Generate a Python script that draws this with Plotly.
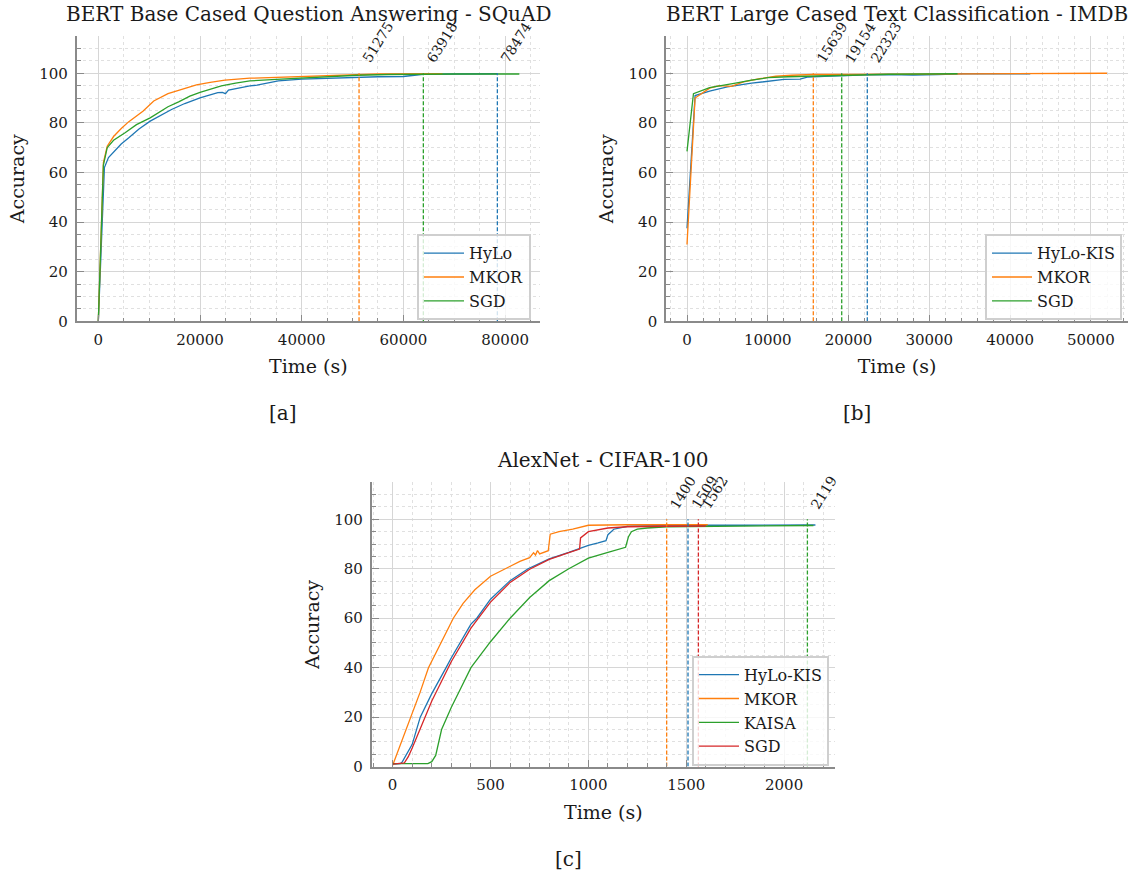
import plotly.graph_objects as go

# ---------------- data ----------------
# [a] BERT Base Cased Question Answering - SQuAD
hylo_a_t = [0, 1200, 2000, 3200, 4500, 6000, 8000, 10200, 12500, 14400, 17000, 20000, 22000, 23500, 24400,
            25000, 25600, 27500, 29800, 31200, 33000, 35400, 40000, 45000, 50900, 55000, 60000, 62000, 63900,
            70000, 78500]
hylo_a = [0, 62, 66, 68.6, 71.5, 74, 77.5, 80.7, 83.3, 85.4, 87.8, 90.1, 91.3, 92.2, 92.3,
          91.8, 93.2, 94.1, 94.9, 95.2, 96.0, 96.9, 97.6, 98.0, 98.4, 98.6, 98.7, 99.2, 99.6,
          99.7, 99.8]
mkor_a_t = [0, 1000, 1750, 3000, 4560, 6000, 8770, 10900, 13700, 16500, 19300, 22000, 24900, 29800, 35000,
            40000, 47400, 50900, 55000, 67700]
mkor_a = [0, 64, 70.6, 74.5, 77.8, 80.5, 84.7, 88.8, 91.8, 93.6, 95.3, 96.3, 97.2, 98.0, 98.4,
          98.7, 99.2, 99.6, 99.7, 99.8]
sgd_a_t = [0, 1000, 1750, 3000, 5260, 7500, 10200, 12500, 13700, 15800, 18000, 20000, 22000, 24200, 27000,
           29800, 35000, 40000, 45000, 50900, 57000, 63900, 70000, 82800]
sgd_a = [0, 63, 70, 73, 76, 79.3, 82, 84.8, 86.5, 88.5, 90.8, 92.3, 93.6, 94.9, 96,
         96.9, 97.5, 98.1, 98.7, 99.2, 99.5, 99.7, 99.7, 99.7]
names_a = ["HyLo", "MKOR", "SGD"]
vlines_a = [51275, 63918, 78474]
vline_names_a = ["MKOR", "SGD", "HyLo"]

# [b] BERT Large Cased Text Classification - IMDB
hylo_b_t = [0, 1000, 2800, 5000, 8000, 10000, 12000, 14000, 15000, 17000, 20000, 22300, 25000, 28000,
            31000, 34000, 42500]
hylo_b = [37.5, 91, 92.8, 94.5, 96, 96.8, 97.5, 97.6, 98.5, 98.8, 99.2, 99.4, 99.5, 99.3,
          99.5, 99.8, 99.8]
mkor_b_t = [0, 1000, 2800, 4000, 5500, 7000, 9000, 11000, 13000, 15600, 20000, 30000, 40000, 52000]
mkor_b = [31, 90, 94, 95, 94.7, 96.5, 97.8, 98.8, 99.2, 99.5, 99.5, 99.7, 99.9, 100]
sgd_b_t = [0, 800, 2800, 4500, 6000, 8000, 10000, 12500, 15000, 19100, 25000, 33500]
sgd_b = [68.5, 91.8, 94.2, 95, 96, 97.2, 98.2, 98.6, 98.8, 99.3, 99.6, 99.8]
names_b = ["HyLo-KIS", "MKOR", "SGD"]
vlines_b = [15639, 19154, 22323]
vline_names_b = ["MKOR", "SGD", "HyLo-KIS"]

# [c] AlexNet - CIFAR-100
hylo_c_t = [0, 40, 50, 80, 100, 141, 200, 273, 300, 400, 430, 500, 600, 692, 800, 900, 950, 1000, 1050,
            1090, 1100, 1130, 1200, 1300, 1509, 1800, 2160]
hylo_c = [1, 1.2, 2, 6, 9, 20, 29.5, 40, 44, 57.6, 60, 67.7, 75.2, 80, 84, 86.6, 88, 89.5, 90.5,
          91.4, 93.8, 96, 97.2, 97.4, 97.6, 97.6, 97.7]
mkor_c_t = [0, 47, 95, 140, 183, 245, 310, 360, 420, 500, 573, 650, 700, 720, 730, 740, 751, 795,
            805, 850, 920, 988, 1000, 1200, 1400, 1610]
mkor_c = [0.5, 10.4, 20, 30, 40, 50, 60, 66, 71.5, 77, 80, 83, 84.5, 86.5, 85.6, 87.4, 86, 87.3,
          94, 95, 96, 97.3, 97.6, 97.8, 97.8, 97.8]
kaisa_c_t = [0, 180, 200, 220, 250, 300, 350, 400, 500, 600, 700, 800, 900, 1000, 1100, 1190, 1205,
             1220, 1250, 1300, 1400, 1700, 2119, 2150]
kaisa_c = [1.2, 1.2, 2, 4.5, 15, 24, 32, 40, 50.5, 60, 68.4, 75.2, 80, 84.3, 86.6, 88.7, 93,
           95, 96, 96.5, 97, 97.3, 97.5, 97.5]
sgd_c_t = [0, 60, 80, 100, 150, 200, 300, 400, 500, 600, 700, 800, 900, 955, 960, 1000, 1100, 1200,
           1400, 1562, 1600]
sgd_c = [1, 1.5, 4, 7.5, 17, 26.5, 42.5, 56, 66.5, 74.5, 79.8, 83.8, 86.5, 88, 92.5, 95, 96.5, 97,
         97.2, 97.3, 97.3]
names_c = ["HyLo-KIS", "MKOR", "KAISA", "SGD"]
vlines_c = [1400, 1509, 1562, 2119]
vline_names_c = ["MKOR", "HyLo-KIS", "SGD", "KAISA"]

titles = ["BERT Base Cased Question Answering - SQuAD",
          "BERT Large Cased Text Classification - IMDB",
          "AlexNet - CIFAR-100"]
panel_labels = ["[a]", "[b]", "[c]"]
x_label = "Time (s)"
y_label = "Accuracy"

# ---------------- style ----------------
COLORS = {"HyLo": "#1f77b4", "HyLo-KIS": "#1f77b4", "MKOR": "#ff7f0e",
          "SGD_ac": "#2ca02c", "KAISA": "#2ca02c", "SGD_c": "#d62728"}
FONT = "DejaVu Serif"
TXT = "#1a1a1a"
W, H = 1136, 877          # reference canvas
HL = 887                  # layout height (compensates observed vertical squash)


def fx(px):
    return px / W


def fy(py):
    return 1 - py / H


def col(name, panel):
    if name == "SGD":
        return COLORS["SGD_c"] if panel == 3 else COLORS["SGD_ac"]
    return COLORS[name]


fig = go.Figure()

panels = [
    (1, [(hylo_a_t, hylo_a), (mkor_a_t, mkor_a), (sgd_a_t, sgd_a)], names_a, vlines_a, vline_names_a),
    (2, [(hylo_b_t, hylo_b), (mkor_b_t, mkor_b), (sgd_b_t, sgd_b)], names_b, vlines_b, vline_names_b),
    (3, [(hylo_c_t, hylo_c), (mkor_c_t, mkor_c), (kaisa_c_t, kaisa_c), (sgd_c_t, sgd_c)], names_c,
     vlines_c, vline_names_c),
]

annotations = []
for p, series, names, vls, vnames in panels:
    xa = "x" if p == 1 else f"x{p}"
    ya = "y" if p == 1 else f"y{p}"
    lg = "legend" if p == 1 else f"legend{p}"
    for (t, v), nm in zip(series, names):
        fig.add_trace(go.Scatter(x=t, y=v, mode="lines", name=nm, xaxis=xa, yaxis=ya, legend=lg,
                                 line=dict(color=col(nm, p), width=1.3)))
    for v, nm in zip(vls, vnames):
        fig.add_trace(go.Scatter(x=[v, v], y=[0, 100], mode="lines", showlegend=False, xaxis=xa, yaxis=ya,
                                 line=dict(color=col(nm, p), width=1.3, dash="4px,2px"), hoverinfo="skip"))
        annotations.append(dict(x=v, y=102.5, xref=xa, yref=ya, text=str(v), showarrow=False,
                                textangle=-58, xanchor="left", yanchor="bottom", borderpad=0, xshift=-1,
                                font=dict(family=FONT, size=14, color=TXT)))

# axis geometry in page pixels
geo = {
    1: dict(x=(76.7, 540.0), y=(36.0, 321.0), xr=[-4250, 86860], dt=20000, mdt=5000),
    2: dict(x=(666.0, 1128.0), y=(36.0, 321.0), xr=[-2600, 54600], dt=10000, mdt=2000),
    3: dict(x=(371.7, 835.0), y=(481.7, 765.7), xr=[-107, 2260], dt=500, mdt=100),
}

AX = "#8a8a8a"
for p, g in geo.items():
    xd = [fx(g["x"][0]), fx(g["x"][1])]
    yd = [fy(g["y"][1]), fy(g["y"][0])]
    common = dict(showline=True, linecolor=AX, linewidth=1.6, ticks="inside", ticklen=7, tickwidth=1.2,
                  tickcolor=AX, showgrid=True, gridcolor="#d6d6d6", gridwidth=1, zeroline=False,
                  tickfont=dict(family=FONT, size=15, color=TXT), ticklabelstandoff=4, tickformat="d")
    xk = "xaxis" if p == 1 else f"xaxis{p}"
    yk = "yaxis" if p == 1 else f"yaxis{p}"
    fig.update_layout(**{
        xk: dict(common, domain=xd, anchor="y" if p == 1 else f"y{p}", range=g["xr"], tick0=0, dtick=g["dt"],
                 minor=dict(dtick=g["mdt"], tick0=0, ticks="inside", ticklen=4, tickcolor=AX, tickwidth=1,
                            showgrid=True, gridcolor="#e0e0e0", griddash="dot"),
                 title=dict(text=x_label, font=dict(family=FONT, size=19, color=TXT), standoff=12)),
        yk: dict(common, domain=yd, anchor="x" if p == 1 else f"x{p}", range=[0, 115], tick0=0, dtick=20,
                 minor=dict(dtick=5, tick0=0, ticks="inside", ticklen=4, tickcolor=AX, tickwidth=1,
                            showgrid=True, gridcolor="#e0e0e0", griddash="dot"),
                 title=dict(text=y_label, font=dict(family=FONT, size=19, color=TXT), standoff=10)),
    })
    cx = (g["x"][0] + g["x"][1]) / 2
    ty = g["y"][0] - 22
    annotations.append(dict(x=fx(cx), y=fy(ty), xref="paper", yref="paper", text=titles[p - 1],
                            showarrow=False, xanchor="center", yanchor="middle",
                            font=dict(family=FONT, size=20, color=TXT)))

label_pos = {1: (283, 413), 2: (857, 413), 3: (568, 858)}
for p, (lx, ly) in label_pos.items():
    annotations.append(dict(x=fx(lx), y=fy(ly), xref="paper", yref="paper", text=panel_labels[p - 1],
                            showarrow=False, xanchor="center", yanchor="middle",
                            font=dict(family=FONT, size=20, color=TXT)))

leg_common = dict(xanchor="right", yanchor="middle", bgcolor="rgba(255,255,255,0.8)", bordercolor="#cfcfcf",
                  borderwidth=2, font=dict(family=FONT, size=16, color=TXT), tracegroupgap=0, itemwidth=40)
fig.update_layout(
    width=W, height=HL, margin=dict(l=0, r=0, t=0, b=0),
    paper_bgcolor="white", plot_bgcolor="white",
    font=dict(family=FONT, color=TXT),
    annotations=annotations,
    legend=dict(leg_common, x=fx(531), y=fy(277)),
    legend2=dict(leg_common, x=fx(1122), y=fy(277)),
    legend3=dict(leg_common, x=fx(829), y=fy(710)),
)

fig.write_html(
    "out.html",
    config={"displayModeBar": False},
    post_script=("document.documentElement.style.margin='0';document.body.style.margin='0';"
                 "document.documentElement.style.overflow='hidden';document.body.style.overflow='hidden';"),
)
